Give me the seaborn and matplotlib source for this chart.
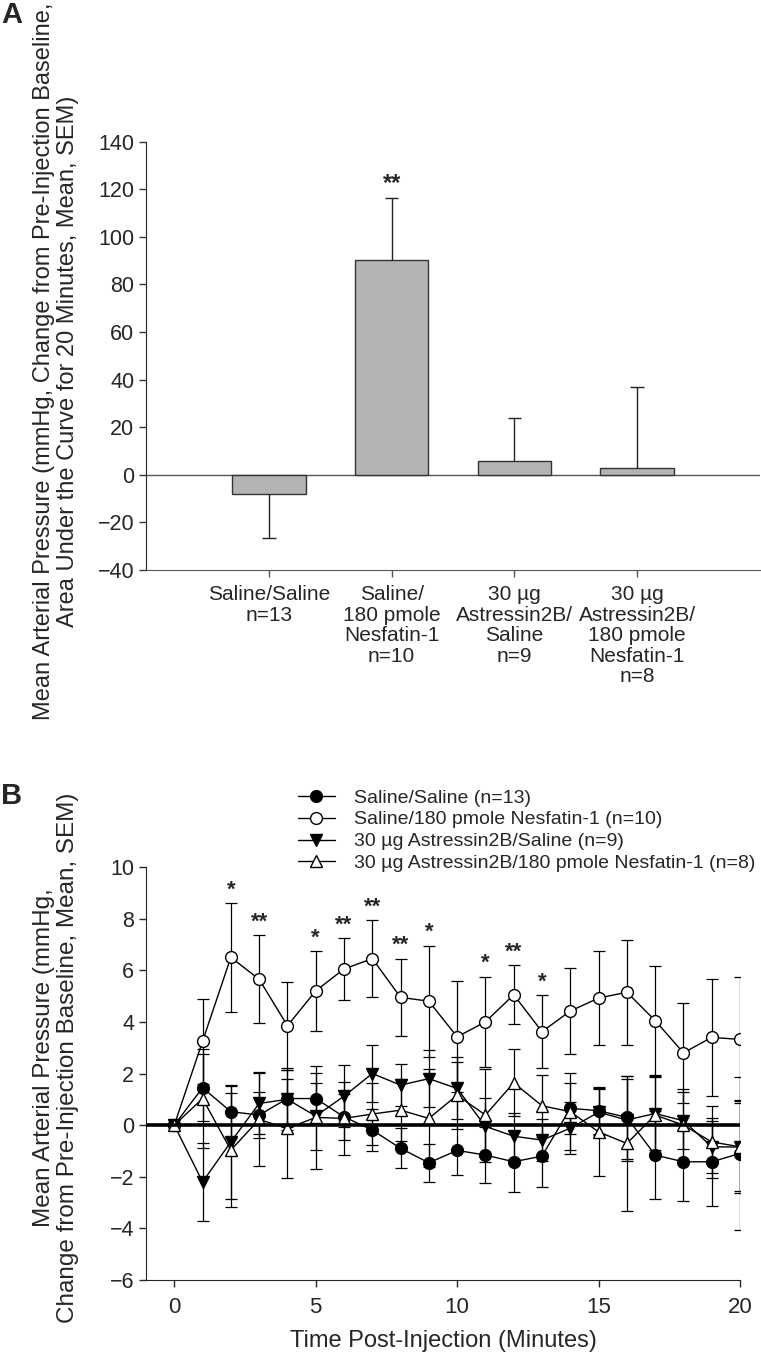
import matplotlib
matplotlib.use("Agg")
import matplotlib.pyplot as plt
import numpy as np
import pandas as pd
import seaborn as sns

# --- panel A: area under the curve, 20 min ---
group_labels = [
    "Saline/Saline\nn=13",
    "Saline/\n180 pmole\nNesfatin-1\nn=10",
    "30 µg\nAstressin2B/\nSaline\nn=9",
    "30 µg\nAstressin2B/\n180 pmole\nNesfatin-1\nn=8",
]
auc_mean = [-8.1, 90.2, 6.0, 2.8]
auc_sem = [18.3, 26.2, 17.8, 34.2]
auc_stars = ["", "**", "", ""]

# --- panel B: time course ---
minutes = [0, 1, 2, 3, 4, 5, 6, 7, 8, 9, 10, 11, 12, 13, 14, 15, 16, 17, 18, 19, 20]
saline_mean = [0, 1.45, 0.52, 0.39, 1.03, 1.03, 0.32, -0.19, -0.9, -1.46, -0.98,
               -1.16, -1.42, -1.2, 0.65, 0.56, 0.3, -1.16, -1.42, -1.42, -1.1]
saline_sem = [0, 1.3, 1.0, 0.9, 1.1, 1.0, 0.9, 0.8, 0.78, 0.74, 0.97,
              1.1, 1.19, 1.19, 1.0, 0.9, 1.6, 1.72, 1.52, 1.7, 2.97]
nesf_mean = [0, 3.25, 6.5, 5.65, 3.85, 5.2, 6.05, 6.45, 4.95, 4.8, 3.42,
             4.0, 5.05, 3.62, 4.42, 4.92, 5.15, 4.05, 2.8, 3.4, 3.32]
nesf_sem = [0, 1.65, 2.1, 1.7, 1.7, 1.55, 1.2, 1.5, 1.5, 2.15, 2.15,
            1.75, 1.15, 1.42, 1.65, 1.83, 2.03, 2.1, 1.94, 2.27, 2.4]
astr_sal_mean = [0, -2.2, -0.65, 0.84, 1.0, 0.35, 1.12, 2.0, 1.55, 1.8, 1.42,
                 -0.05, -0.43, -0.58, -0.12, 0.5, 0.2, 0.45, 0.17, -0.84, -0.85]
astr_sal_sem = [0, 1.5, 2.2, 1.2, 1.2, 1.3, 1.2, 1.1, 0.8, 1.1, 1.2,
                1.1, 0.9, 0.8, 1.0, 0.9, 1.6, 1.4, 1.1, 1.0, 1.7]
astr_nesf_mean = [0, 1.03, -0.97, 0.22, -0.13, 0.3, 0.26, 0.43, 0.58, 0.26, 1.16,
                  0.39, 1.64, 0.75, 0.52, -0.26, -0.71, 0.39, 0.0, -0.65, -0.84]
astr_nesf_sem = [0, 1.9, 2.2, 1.8, 1.9, 2.0, 1.4, 1.2, 1.2, 1.9, 1.3,
                 1.8, 1.3, 1.2, 1.5, 1.7, 2.6, 1.5, 1.4, 1.4, 1.8]
series_names = [
    "Saline/Saline (n=13)",
    "Saline/180 pmole Nesfatin-1 (n=10)",
    "30 µg Astressin2B/Saline (n=9)",
    "30 µg Astressin2B/180 pmole Nesfatin-1 (n=8)",
]
star_minutes = [2, 3, 5, 6, 7, 8, 9, 11, 12, 13]
star_marks = ["*", "**", "*", "**", "**", "**", "*", "*", "**", "*"]

sns.set_style("ticks")
plt.rcParams["font.family"] = ["Liberation Sans", "DejaVu Sans"]

W, H = 761, 1368
fig = plt.figure(figsize=(W / 100, H / 100), dpi=100)


def px_axes(left, top, right, bottom):
    return fig.add_axes([left / W, 1 - bottom / H, (right - left) / W, (bottom - top) / H])


# ---------------- panel A ----------------
ax_a = px_axes(146, 141.7, 760, 570)
bar_df = pd.DataFrame({"group": group_labels, "auc": auc_mean})
sns.barplot(data=bar_df, x="group", y="auc", color="#b4b4b4", saturation=1,
            edgecolor="#333333", linewidth=1.0, width=0.6, errorbar=None, ax=ax_a)
# one-sided SEM bars (away from zero), SigmaPlot style
xpos = np.arange(len(auc_mean))
ends = [m - s if m < 0 else m + s for m, s in zip(auc_mean, auc_sem)]
ax_a.vlines(xpos, auc_mean, ends, color="#222222", lw=1.0, zorder=1)
ax_a.hlines(ends, xpos - 0.055, xpos + 0.055, color="#222222", lw=1.0, zorder=1)
for i, (e, st) in enumerate(zip(ends, auc_stars)):
    if st:
        ax_a.text(i, e + 1, st, ha="center", va="bottom", fontsize=17, fontweight="bold")
ax_a.axhline(0, color="#555555", lw=1.0, zorder=0)
ax_a.set_xlim(-1, 4)
ax_a.set_ylim(-40, 140)
ax_a.set_yticks(np.arange(-40, 141, 20))
ax_a.set_xlabel("")
ax_a.set_ylabel("")
ax_a.tick_params(axis="y", labelsize=15.5, length=5, width=1, color="#333333")
ax_a.tick_params(axis="x", labelsize=15, length=5, width=1, color="#555555", pad=6)
for lab in ax_a.get_xticklabels():
    lab.set_linespacing(1.1)
sns.despine(ax=ax_a)
ax_a.spines["left"].set_color("#222222")
ax_a.spines["bottom"].set_color("#555555")
fig.text(56 / W, 1 - 361 / H,
         "Mean Arterial Pressure (mmHg, Change from Pre-Injection Baseline,\n"
         "Area Under the Curve for 20 Minutes, Mean, SEM)",
         rotation=90, ha="center", va="center", fontsize=17, linespacing=1.12)
fig.text(1 / W, 1 - 1 / H, "A", fontsize=21, fontweight="bold", ha="left", va="top")

# ---------------- panel B ----------------
ax_b = px_axes(146, 867, 740, 1280)
means = [saline_mean, nesf_mean, astr_sal_mean, astr_nesf_mean]
sems = [saline_sem, nesf_sem, astr_sal_sem, astr_nesf_sem]
markers = ["o", "o", "v", "^"]
faces = ["black", "white", "black", "white"]
for mean, sem, mk, fc, name in zip(means, sems, markers, faces, series_names):
    ax_b.errorbar(minutes, mean, yerr=sem, fmt="none", ecolor="black",
                  elinewidth=0.9, capsize=4, capthick=0.9, zorder=2)
    sns.lineplot(x=minutes, y=mean, ax=ax_b, color="black", lw=1.0, marker=mk,
                 markersize=8.5, markerfacecolor=fc, markeredgecolor="black",
                 markeredgewidth=1.0, label=name, zorder=3)
ax_b.axhline(0, color="black", lw=2.6, zorder=4)
for t, st in zip(star_minutes, star_marks):
    top = nesf_mean[t] + nesf_sem[t]
    ax_b.text(t, top + 0.1, st, ha="center", va="bottom", fontsize=16, fontweight="bold")
ax_b.set_xlim(-1, 20)
ax_b.set_ylim(-6, 10)
ax_b.set_xticks([0, 5, 10, 15, 20])
ax_b.set_yticks(np.arange(-6, 11, 2))
ax_b.tick_params(axis="y", labelsize=15.5, length=5, width=1)
ax_b.tick_params(axis="x", labelsize=16, length=5, width=1, pad=7)
ax_b.set_xlabel("Time Post-Injection (Minutes)", fontsize=17, labelpad=9)
ax_b.set_ylabel("")
sns.despine(ax=ax_b)
leg = ax_b.legend(loc="upper left", bbox_to_anchor=(298 / W, 1 - 789 / H),
                  bbox_transform=fig.transFigure, frameon=False, fontsize=14,
                  handlelength=1.9, handletextpad=1.0, labelspacing=0.22,
                  borderpad=0, borderaxespad=0)
fig.text(56 / W, 1 - 1058 / H,
         "Mean Arterial Pressure (mmHg,\n"
         "Change from Pre-Injection Baseline, Mean, SEM)",
         rotation=90, ha="center", va="center", fontsize=17.5, linespacing=1.1)
fig.text(1 / W, 1 - 782 / H, "B", fontsize=21, fontweight="bold", ha="left", va="top")

fig.savefig("out.png", dpi=100)
